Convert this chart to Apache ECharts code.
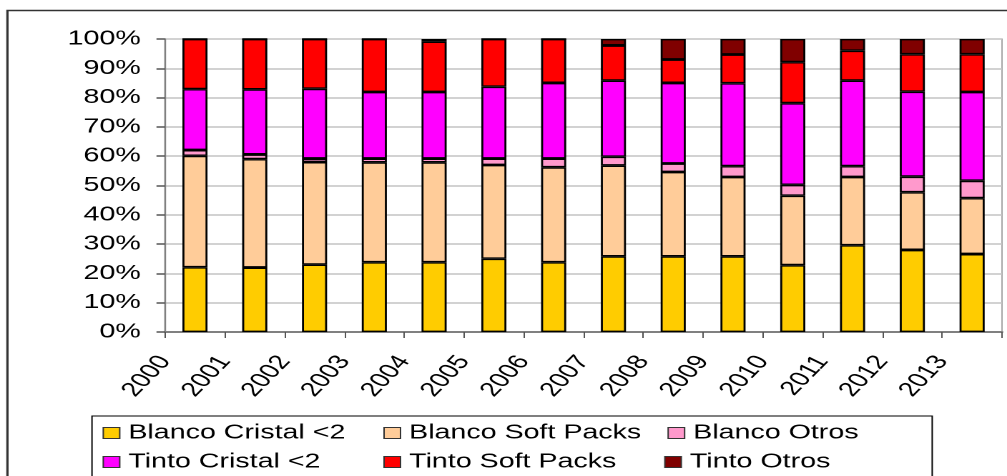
<!DOCTYPE html>
<html>
<head>
<meta charset="utf-8">
<script src="https://cdn.jsdelivr.net/npm/echarts@6/dist/echarts.min.js"></script>
<style>
  html, body { margin: 0; padding: 0; background: #fff; overflow: hidden; }
  #wrap { width: 1007px; height: 476px; overflow: hidden; position: relative; }
  /* the chart is laid out narrow and widened horizontally, like a stretched slide */
  #chart { width: 704px; height: 476px; transform: scaleX(1.4304); transform-origin: 0 0; }
</style>
</head>
<body>
<div id="wrap"><div id="chart"></div></div>
<script>
// Years on the category axis
const years = ['2000', '2001', '2002', '2003', '2004', '2005', '2006',
               '2007', '2008', '2009', '2010', '2011', '2012', '2013'];

// Share of each segment per year (%)
const blancoCristal = [22.1, 22.0, 23.0, 23.8, 23.8, 25.0, 23.8, 25.8, 25.8, 25.8, 22.8, 29.6, 28.0, 26.6];
const blancoSoft    = [38.0, 37.0, 35.0, 34.1, 34.1, 32.0, 32.4, 31.0, 28.8, 27.1, 23.7, 23.3, 19.7, 19.1];
const blancoOtros   = [2.0, 1.6, 1.2, 1.3, 1.3, 2.2, 3.0, 3.0, 2.9, 3.7, 3.7, 3.7, 5.3, 5.9];
const tintoCristal  = [20.8, 22.2, 23.8, 22.7, 22.7, 24.5, 25.8, 26.0, 27.5, 28.3, 27.9, 29.2, 29.0, 30.3];
const tintoSoft     = [17.1, 17.2, 17.0, 18.1, 17.2, 16.3, 15.0, 12.0, 8.0, 9.8, 14.0, 10.2, 12.8, 12.9];
const tintoOtros    = [0, 0, 0, 0, 0.9, 0, 0, 2.2, 7.0, 5.3, 7.9, 4.0, 5.2, 5.2];

const seriesNames = ['Blanco Cristal <2', 'Blanco Soft Packs', 'Blanco Otros',
                     'Tinto Cristal <2', 'Tinto Soft Packs', 'Tinto Otros'];
const seriesValues = [blancoCristal, blancoSoft, blancoOtros, tintoCristal, tintoSoft, tintoOtros];
const seriesColors = ['#FFCC00', '#FFCC99', '#FF99CC', '#FF00FF', '#FF0000', '#800000'];

const FONT = '"Liberation Sans", Arial, sans-serif';

const chart = echarts.init(document.getElementById('chart'), null, { devicePixelRatio: 2 });

const legendCommon = {
  orient: 'horizontal',
  left: 71.7,
  padding: 0,
  itemWidth: 11.5,
  itemHeight: 11,
  itemGap: 18.3,
  icon: 'rect',
  selectedMode: false,
  itemStyle: { borderColor: '#333', borderWidth: 1 },
  textStyle: { fontFamily: FONT, fontSize: 20, color: '#000', width: 160, lineHeight: 20, padding: [0, 0, 0, 1] }
};

chart.setOption({
  animation: false,
  backgroundColor: '#fff',
  grid: {
    left: 115.4, right: 3.5, top: 39, bottom: 476 - 332,
    show: true, borderColor: '#a6a6a6', borderWidth: 1
  },
  legend: [
    Object.assign({}, legendCommon, { top: 423, data: seriesNames.slice(0, 3) }),
    Object.assign({}, legendCommon, { top: 452, data: seriesNames.slice(3) })
  ],
  xAxis: [
    {
      type: 'category',
      data: years,
      boundaryGap: true,
      axisLine: { show: true, lineStyle: { color: '#808080', width: 2 } },
      axisTick: { show: true, length: 6, lineStyle: { color: '#555', width: 1 } },
      axisLabel: { show: false }
    },
    {
      // year labels sit on the category boundaries
      type: 'category',
      data: years.concat(['']),
      boundaryGap: false,
      position: 'bottom',
      axisLine: { show: false },
      axisTick: { show: false },
      splitLine: { show: false },
      axisLabel: {
        interval: 0, rotate: 55, margin: 26,
        fontFamily: FONT, fontSize: 20, color: '#000'
      }
    }
  ],
  yAxis: {
    type: 'value',
    min: 0, max: 100, interval: 10,
    axisLine: { show: true, lineStyle: { color: '#808080', width: 1.2 } },
    axisTick: { show: true, length: 6, lineStyle: { color: '#555', width: 1.5 } },
    splitLine: { show: true, lineStyle: { color: '#c4c4c4', width: 1.5 } },
    axisLabel: {
      margin: 17, formatter: '{value}%',
      fontFamily: FONT, fontSize: 20, color: '#000'
    }
  },
  series: seriesNames.map((name, i) => ({
    name: name,
    type: 'bar',
    stack: 'total',
    xAxisIndex: 0,
    barWidth: '42%',
    data: seriesValues[i],
    itemStyle: { color: seriesColors[i], borderColor: '#000', borderWidth: 1.4 }
  })),
  graphic: [
    {
      // outer chart frame
      type: 'rect', silent: true, z: -1,
      shape: { x: 5.2, y: 10.5, width: 900, height: 600 },
      style: { fill: null, stroke: '#333', lineWidth: 1.6 }
    },
    {
      // legend box
      type: 'rect', silent: true,
      shape: { x: 64.3, y: 416, width: 587.4, height: 200 },
      style: { fill: null, stroke: '#000', lineWidth: 1 }
    }
  ]
});
</script>
</body>
</html>
